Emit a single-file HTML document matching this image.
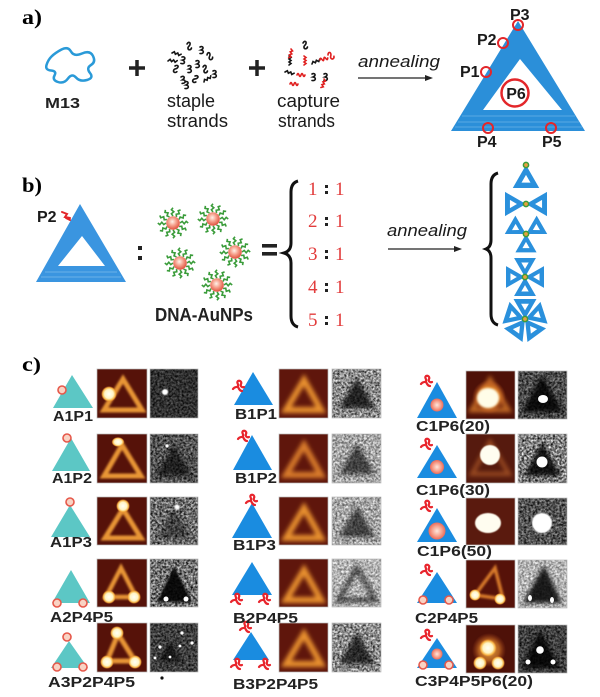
<!DOCTYPE html>
<html><head><meta charset="utf-8"><style>
html,body{margin:0;padding:0;background:#fff;}
svg{display:block;}
text{font-family:"Liberation Sans",Arial,sans-serif;}
.lb{font-weight:bold;font-size:14.5px;fill:#222;}
.pr{fill:#f9d3c4;stroke:#e6584a;stroke-width:1.6;}
.rc{fill:none;stroke:#e3262a;stroke-width:2;}
.pl{font-weight:bold;font-size:16px;fill:#1a1a1a;}
.rt{font-family:"Liberation Serif",serif;font-size:19px;fill:#e23c3c;}
</style></head><body>
<svg width="600" height="697" viewBox="0 0 600 697" xmlns="http://www.w3.org/2000/svg">
<defs>
<filter id="b1" x="-20%" y="-20%" width="140%" height="140%"><feGaussianBlur stdDeviation="1"/></filter>
<filter id="b2" x="-30%" y="-30%" width="160%" height="160%"><feGaussianBlur stdDeviation="2"/></filter>
<filter id="b3" x="-40%" y="-40%" width="180%" height="180%"><feGaussianBlur stdDeviation="3"/></filter>
<filter id="b05" x="-50%" y="-50%" width="200%" height="200%"><feGaussianBlur stdDeviation="0.6"/></filter>
<filter id="nz" x="0" y="0" width="1" height="1" color-interpolation-filters="sRGB"><feTurbulence type="fractalNoise" baseFrequency="0.45" numOctaves="2" seed="5"/><feColorMatrix type="matrix" values="1.5 0 0 0 -0.25  1.5 0 0 0 -0.25  1.5 0 0 0 -0.25  0 0 0 0 1"/></filter>
<radialGradient id="spot"><stop offset="0" stop-color="#fffff6"/><stop offset="0.55" stop-color="#fff4c4"/><stop offset="0.8" stop-color="#f6b444"/><stop offset="1" stop-color="#e07828" stop-opacity="0"/></radialGradient>
<radialGradient id="glow"><stop offset="0" stop-color="#ffd060"/><stop offset="0.6" stop-color="#e88a2c" stop-opacity="0.8"/><stop offset="1" stop-color="#c05020" stop-opacity="0"/></radialGradient>
<radialGradient id="gnp" cx="0.45" cy="0.4" r="0.6"><stop offset="0" stop-color="#fff2ea"/><stop offset="0.45" stop-color="#f7a592"/><stop offset="1" stop-color="#e0503c"/></radialGradient>
<radialGradient id="gpk" cx="0.5" cy="0.5" r="0.5"><stop offset="0" stop-color="#fde6dc"/><stop offset="0.6" stop-color="#f6a08c"/><stop offset="1" stop-color="#ec6a58"/></radialGradient>
<path id="q1" d="M0,0 c1.5,-2.5 3.5,-2 3,0.5 c-0.5,2 -2.5,2 -2,4 c0.5,2 3,1.5 3.5,-0.5"/>
<path id="q2" d="M0,0 l1.8,-2 l1.8,2 l1.8,-2 l1.8,2 l1.8,-2"/>
<path id="q3" d="M0,0 c3,-1.5 4.5,1.5 1,3 c3.5,0.5 3,4 -1,3.5"/>
<path id="q4" d="M0,0 l2,1.5 l-2,1.5 l2,1.5 l-2,1.5 l2,1.5 l-2,1.5"/>
<path id="q5" d="M0,0 q1,-3 2,0 q1,3 2,0 q1,-3 2,0 q1,3 2,0"/>
<path id="strand" d="M7,0 l2.2,-1.6 l2,2.4 l2,-2.4 l2,1.6" fill="none" stroke="#3a9c3a" stroke-width="1.6"/>
<g id="np">
<use href="#strand"/><use href="#strand" transform="rotate(30)"/><use href="#strand" transform="rotate(60)"/><use href="#strand" transform="rotate(90)"/><use href="#strand" transform="rotate(120)"/><use href="#strand" transform="rotate(150)"/><use href="#strand" transform="rotate(180)"/><use href="#strand" transform="rotate(210)"/><use href="#strand" transform="rotate(240)"/><use href="#strand" transform="rotate(270)"/><use href="#strand" transform="rotate(300)"/><use href="#strand" transform="rotate(330)"/>
<circle r="6.8" fill="url(#gnp)"/>
</g>
<path id="tri" fill-rule="evenodd" d="M0,0 L20,-11.5 L20,11.5 Z M8.6,0 L15.3,3.9 L15.3,-3.9 Z"/>
<g id="gd"><circle r="2.6" fill="#e8a040" stroke="#3a9c3a" stroke-width="1.5"/></g>
<path id="rs" d="M-6,2 c2,-3 4,-1 5,-3 c1,-2 -2,-3 0,-5 c2,-1 4,1 3,3 c-1,2 1,4 3,3 M-1,0 c1,2 2,4 4,4" fill="none" stroke="#e8242c" stroke-width="2.2" stroke-linecap="round"/>
</defs>

<!-- ===== Panel a ===== -->
<text x="22" y="24" font-weight="bold" font-size="21" textLength="20" lengthAdjust="spacingAndGlyphs" style="font-family:'Liberation Serif',serif">a)</text>
<path d="M51.5,56.5 Q55,53 61.5,49.5 Q68,46 71,51.5 Q74,57 82,53.5 Q90,50 93,56 Q96,62 91,65 Q86,68 90,73 Q94,78 87,80 Q80,82 76,77.5 Q72,73 68,78.5 Q64,84 58,82 Q52,80 54.5,75.5 Q57,71 51,70.5 Q45,70 46.5,65 Q48,60 51.5,56.5 Z" fill="none" stroke="#2a9ad8" stroke-width="2.5"/>
<text x="45" y="108" font-weight="bold" font-size="15" textLength="35" lengthAdjust="spacingAndGlyphs" fill="#222">M13</text>
<path d="M129,68 H145 M137,60 V76" stroke="#222" stroke-width="3.5"/>
<path d="M249,68 H265 M257,60 V76" stroke="#222" stroke-width="3.5"/>
<g fill="none" stroke="#151515" stroke-width="1.6" stroke-linecap="round">
<use href="#q1" transform="translate(187,44)"/><use href="#q3" transform="translate(200,47)"/><use href="#q2" transform="translate(172,53) rotate(20)"/><use href="#q3" transform="translate(182,57) rotate(10)"/><use href="#q3" transform="translate(196,61)"/><use href="#q1" transform="translate(207,55) rotate(-20)"/><use href="#q1" transform="translate(175,66) rotate(30)"/><use href="#q3" transform="translate(188,66)"/><use href="#q1" transform="translate(203,67)"/><use href="#q3" transform="translate(213,71)"/><use href="#q3" transform="translate(181,77) rotate(-10)"/><use href="#q1" transform="translate(195,76) rotate(40)"/><use href="#q2" transform="translate(204,82) rotate(-30)"/><use href="#q3" transform="translate(185,82)"/><use href="#q2" transform="translate(168,61) rotate(10)"/>
<use href="#q1" transform="translate(303,43)"/><use href="#q2" transform="translate(312,64) rotate(-20)"/><use href="#q2" transform="translate(285,72) rotate(20)"/><use href="#q3" transform="translate(312,74)"/><use href="#q3" transform="translate(324,74)"/><use href="#q4" transform="translate(289,56)"/>
</g>
<g fill="none" stroke="#e02020" stroke-width="1.6" stroke-linecap="round">
<use href="#q4" transform="translate(291,49) rotate(15)"/><use href="#q4" transform="translate(304,56)"/><use href="#q5" transform="translate(320,60) rotate(-15)"/><use href="#q1" transform="translate(328,55) rotate(-30)"/><use href="#q5" transform="translate(297,75)"/><use href="#q5" transform="translate(290,84)"/><use href="#q4" transform="translate(324,79) rotate(20)"/>
</g>
<text x="167" y="107" font-size="18" textLength="48" lengthAdjust="spacingAndGlyphs" fill="#1a1a1a">staple</text>
<text x="167" y="127" font-size="18" textLength="61" lengthAdjust="spacingAndGlyphs" fill="#1a1a1a">strands</text>
<text x="277" y="107" font-size="18" textLength="63" lengthAdjust="spacingAndGlyphs" fill="#1a1a1a">capture</text>
<text x="278" y="127" font-size="18" textLength="57" lengthAdjust="spacingAndGlyphs" fill="#1a1a1a">strands</text>
<text x="358" y="67" font-size="17" font-style="italic" textLength="82" lengthAdjust="spacingAndGlyphs" fill="#1a1a1a">annealing</text>
<line x1="358" y1="78" x2="427" y2="78" stroke="#222" stroke-width="1.3"/>
<polygon points="433,78 425,75 425,81" fill="#222"/>
<!-- big triangle -->
<path fill-rule="evenodd" fill="#2b8fd9" d="M518,21 L451,131 L585,131 Z M520,59 L562,110 L483,110 Z"/>
<g stroke="#7ab9ea" stroke-width="1" opacity="0.6"><line x1="462" y1="116" x2="575" y2="116"/><line x1="458" y1="122" x2="579" y2="122"/><line x1="455" y1="127" x2="582" y2="127"/></g>
<circle cx="518" cy="25" r="5" class="rc"/><circle cx="503" cy="43" r="5" class="rc"/><circle cx="486" cy="72" r="5" class="rc"/><circle cx="488" cy="128" r="5" class="rc"/><circle cx="551" cy="128" r="5" class="rc"/>
<circle cx="515" cy="93" r="13.5" fill="#fff" stroke="#e3262a" stroke-width="2.5"/>
<text x="516" y="99" text-anchor="middle" class="pl">P6</text>
<text x="510" y="20" class="pl">P3</text><text x="477" y="45" class="pl">P2</text><text x="460" y="77" class="pl">P1</text><text x="477" y="147" class="pl">P4</text><text x="542" y="147" class="pl">P5</text>

<!-- ===== Panel b ===== -->
<text x="22" y="192" font-weight="bold" font-size="21" textLength="20" lengthAdjust="spacingAndGlyphs" style="font-family:'Liberation Serif',serif">b)</text>
<path fill-rule="evenodd" fill="#3a95e0" d="M80,204 L36,282 L126,282 Z M82,236 L105,266 L58,266 Z"/>
<g stroke="#8cc4f0" stroke-width="0.9" opacity="0.6"><line x1="45" y1="272" x2="117" y2="272"/><line x1="41" y1="277" x2="121" y2="277"/></g>
<text x="37" y="222" class="pl">P2</text>
<path d="M62,212 l5,2 l-2,3 l5,1 M66,218 l4,2" fill="none" stroke="#e3262a" stroke-width="2" stroke-linecap="round"/>
<rect x="138" y="246" width="4" height="4" fill="#222"/><rect x="138" y="256" width="4" height="4" fill="#222"/>
<use href="#np" transform="translate(173,223)"/><use href="#np" transform="translate(213,219)"/><use href="#np" transform="translate(235,252)"/><use href="#np" transform="translate(180,263)"/><use href="#np" transform="translate(217,285)"/>
<text x="155" y="321" font-weight="bold" font-size="18" textLength="98" lengthAdjust="spacingAndGlyphs" fill="#222">DNA-AuNPs</text>
<rect x="262" y="244" width="15" height="3.6" fill="#222"/><rect x="262" y="252" width="15" height="3.6" fill="#222"/>
<path d="M298,181 Q291,183 291,192 L291,243 Q291,251 284,253 Q291,255 291,263 L291,316 Q291,325 298,327" fill="none" stroke="#111" stroke-width="3"/>
<g>
<text x="308" y="195" class="rt">1</text><text x="335" y="195" class="rt">1</text><rect x="325" y="185" width="3" height="3" fill="#222"/><rect x="325" y="191" width="3" height="3" fill="#222"/>
<text x="308" y="227" class="rt">2</text><text x="335" y="227" class="rt">1</text><rect x="325" y="217" width="3" height="3" fill="#222"/><rect x="325" y="223" width="3" height="3" fill="#222"/>
<text x="308" y="260" class="rt">3</text><text x="335" y="260" class="rt">1</text><rect x="325" y="250" width="3" height="3" fill="#222"/><rect x="325" y="256" width="3" height="3" fill="#222"/>
<text x="308" y="293" class="rt">4</text><text x="335" y="293" class="rt">1</text><rect x="325" y="283" width="3" height="3" fill="#222"/><rect x="325" y="289" width="3" height="3" fill="#222"/>
<text x="308" y="326" class="rt">5</text><text x="335" y="326" class="rt">1</text><rect x="325" y="316" width="3" height="3" fill="#222"/><rect x="325" y="322" width="3" height="3" fill="#222"/>
</g>
<text x="387" y="236" font-size="17" font-style="italic" textLength="80" lengthAdjust="spacingAndGlyphs" fill="#1a1a1a">annealing</text>
<line x1="388" y1="249" x2="456" y2="249" stroke="#222" stroke-width="1.3"/>
<polygon points="462,249 454,246 454,252" fill="#222"/>
<path d="M498,173 Q491,175 491,184 L491,240 Q491,247 486,249 Q491,251 491,258 L491,314 Q491,323 498,325" fill="none" stroke="#111" stroke-width="3"/>
<g fill="#2a90dc">
<use href="#tri" transform="translate(526,165) rotate(90) scale(1.15)"/>
<use href="#tri" transform="translate(526,204) scale(1.05)"/><use href="#tri" transform="translate(526,204) rotate(180) scale(1.05)"/>
<use href="#tri" transform="translate(526,234) rotate(210) scale(0.92)"/><use href="#tri" transform="translate(526,234) rotate(330) scale(0.92)"/><use href="#tri" transform="translate(526,234) rotate(90) scale(0.92)"/>
<use href="#tri" transform="translate(525,277) scale(0.95)"/><use href="#tri" transform="translate(525,277) rotate(90) scale(0.95)"/><use href="#tri" transform="translate(525,277) rotate(180) scale(0.95)"/><use href="#tri" transform="translate(525,277) rotate(270) scale(0.95)"/>
<use href="#tri" transform="translate(525,319) rotate(270) scale(1)"/><use href="#tri" transform="translate(525,319) rotate(342) scale(1)"/><use href="#tri" transform="translate(525,319) rotate(54) scale(1)"/><use href="#tri" transform="translate(525,319) rotate(126) scale(1)"/><use href="#tri" transform="translate(525,319) rotate(198) scale(1)"/>
</g>
<use href="#gd" transform="translate(526,165)"/><use href="#gd" transform="translate(526,204)"/><use href="#gd" transform="translate(526,234)"/><use href="#gd" transform="translate(525,277)"/><use href="#gd" transform="translate(525,319)"/>

<!-- ===== Panel c ===== -->
<text x="22" y="371" font-weight="bold" font-size="20" textLength="19" lengthAdjust="spacingAndGlyphs" style="font-family:'Liberation Serif',serif">c)</text>

<!-- Column A schematics -->
<g fill="#5cc7c5">
<polygon points="72,375 53,408 93,408"/>
<polygon points="71,438 52,471 90,471"/>
<polygon points="70,505 51,537 90,537"/>
<polygon points="71,570 52,603 90,603"/>
<polygon points="69,641 51,668 88,668"/>
</g>
<circle cx="62" cy="390" r="4" class="pr"/>
<circle cx="67" cy="438" r="4" class="pr"/>
<circle cx="70" cy="502" r="4" class="pr"/>
<circle cx="57" cy="603" r="4" class="pr"/><circle cx="83" cy="603" r="4" class="pr"/>
<circle cx="67" cy="637" r="4" class="pr"/><circle cx="57" cy="667" r="4" class="pr"/><circle cx="83" cy="667" r="4" class="pr"/>
<text x="53" y="421" class="lb" textLength="40" lengthAdjust="spacingAndGlyphs">A1P1</text>
<text x="52" y="483" class="lb" textLength="40" lengthAdjust="spacingAndGlyphs">A1P2</text>
<text x="50" y="547" class="lb" textLength="42" lengthAdjust="spacingAndGlyphs">A1P3</text>
<text x="50" y="622" class="lb" textLength="63" lengthAdjust="spacingAndGlyphs">A2P4P5</text>
<text x="48" y="687" class="lb" textLength="87" lengthAdjust="spacingAndGlyphs">A3P2P4P5</text>

<!-- Column A AFM -->
<g>
<rect x="97" y="369" width="50" height="49" fill="#561209"/>
<polygon points="123,379 104,410 142,410" fill="none" stroke="#e89535" stroke-width="5" filter="url(#b1)"/>
<circle cx="109" cy="394" r="8" fill="url(#spot)"/>
<rect x="97" y="434" width="50" height="49" fill="#561209"/>
<polygon points="122,445 104,476 141,476" fill="none" stroke="#e89535" stroke-width="5" filter="url(#b1)"/>
<ellipse cx="118" cy="442" rx="6.5" ry="5" fill="url(#spot)"/>
<rect x="97" y="497" width="50" height="48" fill="#561209"/>
<polygon points="123,509 105,538 141,538" fill="none" stroke="#e89535" stroke-width="5" filter="url(#b1)"/>
<circle cx="123" cy="506" r="7" fill="url(#spot)"/>
<rect x="97" y="559" width="50" height="48" fill="#561209"/>
<polygon points="121,568 106,597 136,597" fill="none" stroke="#e89535" stroke-width="4.5" filter="url(#b1)"/>
<circle cx="109" cy="597" r="7" fill="url(#spot)"/><circle cx="134" cy="597" r="7" fill="url(#spot)"/>
<rect x="97" y="623" width="50" height="49" fill="#561209"/>
<polygon points="118,634 107,661 135,661" fill="none" stroke="#e89535" stroke-width="5" filter="url(#b1)"/>
<circle cx="117" cy="633" r="7" fill="url(#spot)"/><circle cx="107" cy="662" r="7" fill="url(#spot)"/><circle cx="135" cy="662" r="7" fill="url(#spot)"/>
</g>

<!-- Column A TEM -->
<g>
<rect x="150" y="369" width="48" height="49" filter="url(#nz)"/><rect x="150" y="369" width="48" height="49" fill="#000" opacity="0.62"/>
<circle cx="165" cy="392" r="3" fill="#fff" filter="url(#b05)"/>
<rect x="150" y="434" width="48" height="49" filter="url(#nz)"/><rect x="150" y="434" width="48" height="49" fill="#000" opacity="0.35"/>
<polygon points="174,444 156,476 192,476" fill="#000" opacity="0.6" filter="url(#b2)"/>
<circle cx="167" cy="446" r="1.6" fill="#fff"/>
<rect x="150" y="497" width="48" height="48" filter="url(#nz)"/><rect x="150" y="497" width="48" height="48" fill="#000" opacity="0.15"/>
<polygon points="174,507 157,538 191,538" fill="#000" opacity="0.4" filter="url(#b2)"/>
<circle cx="177" cy="507" r="2.5" fill="#fff" filter="url(#b05)"/>
<rect x="150" y="559" width="48" height="48" filter="url(#nz)"/><rect x="150" y="559" width="48" height="48" fill="#000" opacity="0.1"/>
<polygon points="174,566 157,602 192,602" fill="#000" opacity="0.9" filter="url(#b1)"/>
<circle cx="166" cy="599" r="2.5" fill="#fff"/><circle cx="186" cy="599" r="2.5" fill="#fff"/>
<rect x="150" y="623" width="48" height="49" filter="url(#nz)"/><rect x="150" y="623" width="48" height="49" fill="#000" opacity="0.5"/>
<polygon points="170,640 158,662 182,662" fill="#000" opacity="0.6" filter="url(#b2)"/>
<circle cx="182" cy="633" r="1.6" fill="#fff"/><circle cx="160" cy="647" r="1.6" fill="#fff"/><circle cx="192" cy="643" r="1.6" fill="#fff"/><circle cx="155" cy="658" r="1.4" fill="#fff"/><circle cx="170" cy="657" r="1.4" fill="#fff"/><circle cx="180" cy="646" r="1.4" fill="#fff"/>
<circle cx="162" cy="678" r="1.6" fill="#111"/>
</g>

<!-- Column B schematics -->
<g fill="#1a8ce0">
<polygon points="253,372 234,405 273,405"/>
<polygon points="252,435 233,470 272,470"/>
<polygon points="252,503 232,538 272,538"/>
<polygon points="252,562 232,595 272,595"/>
<polygon points="251,632 233,660 269,660"/>
</g>
<use href="#rs" transform="translate(239,387)"/>
<use href="#rs" transform="translate(244,437)"/>
<use href="#rs" transform="translate(252,501)"/>
<use href="#rs" transform="translate(237,600)"/><use href="#rs" transform="translate(265,600)"/>
<use href="#rs" transform="translate(246,628)"/><use href="#rs" transform="translate(237,665)"/><use href="#rs" transform="translate(265,665)"/>
<text x="235" y="419" class="lb" textLength="42" lengthAdjust="spacingAndGlyphs">B1P1</text>
<text x="235" y="483" class="lb" textLength="42" lengthAdjust="spacingAndGlyphs">B1P2</text>
<text x="233" y="550" class="lb" textLength="43" lengthAdjust="spacingAndGlyphs">B1P3</text>
<text x="233" y="623" class="lb" textLength="65" lengthAdjust="spacingAndGlyphs">B2P4P5</text>
<text x="233" y="689" class="lb" textLength="85" lengthAdjust="spacingAndGlyphs">B3P2P4P5</text>

<!-- Column B AFM -->
<g>
<rect x="279" y="369" width="49" height="49" fill="#5f160c"/>
<polygon points="304,380 286,410 321,410" fill="none" stroke="#e8902e" stroke-width="6" filter="url(#b2)"/>
<rect x="279" y="434" width="49" height="49" fill="#5f160c"/>
<polygon points="304,445 286,475 321,475" fill="none" stroke="#d87a2a" stroke-width="6" filter="url(#b2)"/>
<rect x="279" y="497" width="49" height="48" fill="#5f160c"/>
<polygon points="304,508 286,538 321,538" fill="none" stroke="#e8902e" stroke-width="6" filter="url(#b2)"/>
<rect x="279" y="559" width="49" height="48" fill="#5f160c"/>
<polygon points="304,570 286,600 321,600" fill="none" stroke="#e8902e" stroke-width="6" filter="url(#b2)"/>
<rect x="279" y="623" width="49" height="49" fill="#5f160c"/>
<polygon points="304,634 286,664 321,664" fill="none" stroke="#e8902e" stroke-width="6" filter="url(#b2)"/>
</g>

<!-- Column B TEM -->
<g>
<rect x="332" y="369" width="49" height="49" filter="url(#nz)"/><rect x="332" y="369" width="49" height="49" fill="#fff" opacity="0.1"/>
<polygon points="357,378 339,408 375,408" fill="#000" opacity="0.75" filter="url(#b2)"/>
<rect x="332" y="434" width="49" height="49" filter="url(#nz)"/><rect x="332" y="434" width="49" height="49" fill="#fff" opacity="0.3"/>
<polygon points="357,443 339,474 375,474" fill="#000" opacity="0.6" filter="url(#b2)"/>
<rect x="332" y="497" width="49" height="48" filter="url(#nz)"/><rect x="332" y="497" width="49" height="48" fill="#fff" opacity="0.3"/>
<polygon points="357,506 339,537 375,537" fill="#000" opacity="0.6" filter="url(#b2)"/>
<rect x="332" y="559" width="49" height="48" filter="url(#nz)"/><rect x="332" y="559" width="49" height="48" fill="#fff" opacity="0.4"/>
<polygon points="357,568 339,600 375,600" fill="none" stroke="#000" stroke-width="5" opacity="0.6" filter="url(#b2)"/>
<rect x="332" y="623" width="49" height="49" filter="url(#nz)"/><rect x="332" y="623" width="49" height="49" fill="#fff" opacity="0.1"/>
<polygon points="357,632 339,664 375,664" fill="#000" opacity="0.7" filter="url(#b2)"/>
</g>

<!-- Column C schematics -->
<g fill="#1a8ce0">
<polygon points="437,382 417,418 457,418"/>
<polygon points="437,445 417,478 457,478"/>
<polygon points="437,508 417,542 457,542"/>
<polygon points="437,572 417,603 457,603"/>
<polygon points="437,638 417,668 457,668"/>
</g>
<circle cx="437" cy="405" r="6.5" fill="url(#gpk)"/>
<circle cx="437" cy="467" r="7" fill="url(#gpk)"/>
<circle cx="437" cy="531" r="8.5" fill="url(#gpk)"/>
<circle cx="423" cy="600" r="4" class="pr"/><circle cx="449" cy="600" r="4" class="pr"/>
<circle cx="437" cy="654" r="5.5" fill="url(#gpk)"/><circle cx="423" cy="665" r="4" class="pr"/><circle cx="449" cy="665" r="4" class="pr"/>
<use href="#rs" transform="translate(427,382)"/>
<use href="#rs" transform="translate(427,445)"/>
<use href="#rs" transform="translate(427,507)"/>
<use href="#rs" transform="translate(427,571)"/>
<use href="#rs" transform="translate(427,636)"/>
<text x="416" y="431" class="lb" textLength="74" lengthAdjust="spacingAndGlyphs">C1P6(20)</text>
<text x="416" y="495" class="lb" textLength="74" lengthAdjust="spacingAndGlyphs">C1P6(30)</text>
<text x="417" y="556" class="lb" textLength="75" lengthAdjust="spacingAndGlyphs">C1P6(50)</text>
<text x="415" y="623" class="lb" textLength="63" lengthAdjust="spacingAndGlyphs">C2P4P5</text>
<text x="415" y="686" class="lb" textLength="118" lengthAdjust="spacingAndGlyphs">C3P4P5P6(20)</text>

<!-- Column C AFM -->
<g>
<rect x="466" y="371" width="49" height="48" fill="#4e1108"/>
<polygon points="490,380 472,410 508,410" fill="none" stroke="#d87a2a" stroke-width="5" opacity="0.8" filter="url(#b2)"/>
<circle cx="489" cy="397" r="17" fill="url(#glow)"/>
<ellipse cx="488" cy="398" rx="11" ry="10" fill="#fffde8" filter="url(#b1)"/>
<rect x="466" y="434" width="49" height="49" fill="#561a0e"/>
<polygon points="490,442 472,474 509,474" fill="none" stroke="#b8602a" stroke-width="4" opacity="0.7" filter="url(#b2)"/>
<circle cx="490" cy="455" r="10" fill="#fffdf0" filter="url(#b05)"/>
<rect x="466" y="498" width="49" height="47" fill="#5a1a0e"/>
<ellipse cx="488" cy="523" rx="13" ry="10" fill="#fffdf0" filter="url(#b05)"/>
<rect x="466" y="560" width="49" height="48" fill="#561209"/>
<polygon points="495,568 475,595 503,599" fill="none" stroke="#d87a2a" stroke-width="3.5" filter="url(#b1)"/>
<circle cx="475" cy="595" r="6" fill="url(#spot)"/><circle cx="500" cy="599" r="6" fill="url(#spot)"/>
<rect x="466" y="625" width="49" height="48" fill="#4e1108"/>
<circle cx="489" cy="650" r="17" fill="url(#glow)" opacity="0.8"/>
<circle cx="488" cy="648" r="9" fill="url(#spot)"/><circle cx="480" cy="663" r="7" fill="url(#spot)"/><circle cx="498" cy="663" r="7" fill="url(#spot)"/>
</g>

<!-- Column C TEM -->
<g>
<rect x="518" y="371" width="49" height="48" filter="url(#nz)"/><rect x="518" y="371" width="49" height="48" fill="#000" opacity="0.4"/>
<polygon points="542,375 522,412 563,412" fill="#000" opacity="0.85" filter="url(#b2)"/>
<ellipse cx="543" cy="399" rx="5" ry="4" fill="#fff"/>
<rect x="518" y="434" width="49" height="49" filter="url(#nz)"/>
<polygon points="542,442 524,476 561,476" fill="#000" opacity="0.85" filter="url(#b2)"/>
<circle cx="542" cy="462" r="5.5" fill="#fff"/>
<rect x="518" y="498" width="49" height="47" filter="url(#nz)"/><rect x="518" y="498" width="49" height="47" fill="#000" opacity="0.35"/>
<circle cx="542" cy="523" r="10" fill="#fff" filter="url(#b05)"/>
<rect x="518" y="560" width="49" height="48" filter="url(#nz)"/><rect x="518" y="560" width="49" height="48" fill="#fff" opacity="0.4"/>
<polygon points="544,565 523,603 562,603" fill="#000" opacity="0.85" filter="url(#b2)"/>
<ellipse cx="530" cy="598" rx="2" ry="3" fill="#fff"/><ellipse cx="552" cy="600" rx="2" ry="3" fill="#fff"/>
<rect x="518" y="625" width="49" height="48" filter="url(#nz)"/><rect x="518" y="625" width="49" height="48" fill="#000" opacity="0.5"/>
<polygon points="540,630 522,668 560,668" fill="#000" opacity="0.85" filter="url(#b2)"/>
<circle cx="540" cy="650" r="3.8" fill="#fff"/><circle cx="528" cy="662" r="2.5" fill="#fff"/><circle cx="553" cy="662" r="2.5" fill="#fff"/>
</g>

<!-- image borders -->
<g fill="none" stroke="#bbb" stroke-width="0.7">
<rect x="97" y="369" width="50" height="49"/><rect x="97" y="434" width="50" height="49"/><rect x="97" y="497" width="50" height="48"/><rect x="97" y="559" width="50" height="48"/><rect x="97" y="623" width="50" height="49"/>
<rect x="150" y="369" width="48" height="49"/><rect x="150" y="434" width="48" height="49"/><rect x="150" y="497" width="48" height="48"/><rect x="150" y="559" width="48" height="48"/><rect x="150" y="623" width="48" height="49"/>
<rect x="279" y="369" width="49" height="49"/><rect x="279" y="434" width="49" height="49"/><rect x="279" y="497" width="49" height="48"/><rect x="279" y="559" width="49" height="48"/><rect x="279" y="623" width="49" height="49"/>
<rect x="332" y="369" width="49" height="49"/><rect x="332" y="434" width="49" height="49"/><rect x="332" y="497" width="49" height="48"/><rect x="332" y="559" width="49" height="48"/><rect x="332" y="623" width="49" height="49"/>
<rect x="466" y="371" width="49" height="48"/><rect x="466" y="434" width="49" height="49"/><rect x="466" y="498" width="49" height="47"/><rect x="466" y="560" width="49" height="48"/><rect x="466" y="625" width="49" height="48"/>
<rect x="518" y="371" width="49" height="48"/><rect x="518" y="434" width="49" height="49"/><rect x="518" y="498" width="49" height="47"/><rect x="518" y="560" width="49" height="48"/><rect x="518" y="625" width="49" height="48"/>
</g>
</svg>
</body></html>
